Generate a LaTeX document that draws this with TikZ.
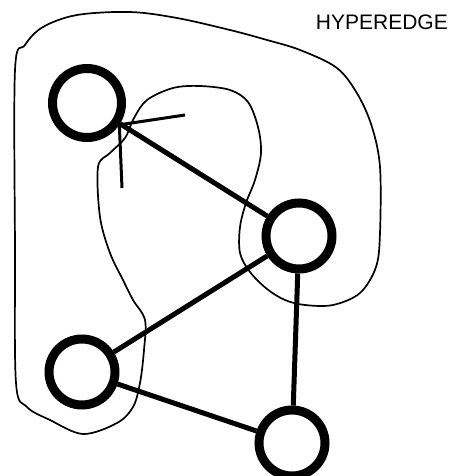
\documentclass[tikz,border=0pt]{standalone}
\usepackage{fontspec}
\setmainfont{Liberation Sans}
\begin{document}
\begin{tikzpicture}[x=1pt,y=-1pt,
  vertex/.style={circle,draw,line width=9pt,minimum size=66pt,inner sep=0pt},
  link/.style={line width=5pt},
  stroke/.style={line width=3pt},
  hull/.style={line width=1.7pt}]
\useasboundingbox (0,0) rectangle (451,476);
% vertices
\node[vertex,minimum size=69pt] (a) at (87,103) {};
\node[vertex] (b) at (299,236) {};
\node[vertex] (c) at (82,372) {};
\node[vertex] (d) at (292,443) {};
% edges
\draw[link] (a) -- (b);
\draw[link] (b) -- (c);
\draw[link] (b) -- (d);
\draw[link] (c) -- (d);
% short strokes at the first vertex
\coordinate (tip) at (a.-34);
\coordinate (s1) at (185,115);
\coordinate (s2) at (122,188);
\draw[stroke] (tip) -- (s1);
\draw[stroke] (tip) -- (s2);
% hyperedge outline
\draw[hull] plot[smooth cycle,tension=0.55] coordinates {
  (15,70) (15,250) (16,383) (27,407) (50,420) (83,434) (117,423) (133,407)
  (140,383) (144,350) (145,320) (133,300) (123,280) (110,253) (100,217)
  (98,167) (110,153) (125,138) (134,118) (147,100) (173,88) (200,86)
  (230,90) (248,102) (258,127) (261,153) (255,180) (246,203) (240,227)
  (240,253) (250,272) (267,289) (285,300) (305,305) (333,305) (360,293)
  (376,267) (380,233) (380,167) (372,127) (358,95) (337,68) (300,50)
  (267,40) (230,30) (177,18) (130,12) (77,15) (43,27) (25,45)};
% label
\node[font=\fontsize{21}{23}\selectfont,anchor=north east,inner sep=0pt] (lbl) at (448,14.5) {HYPEREDGE};
\end{tikzpicture}
\end{document}
